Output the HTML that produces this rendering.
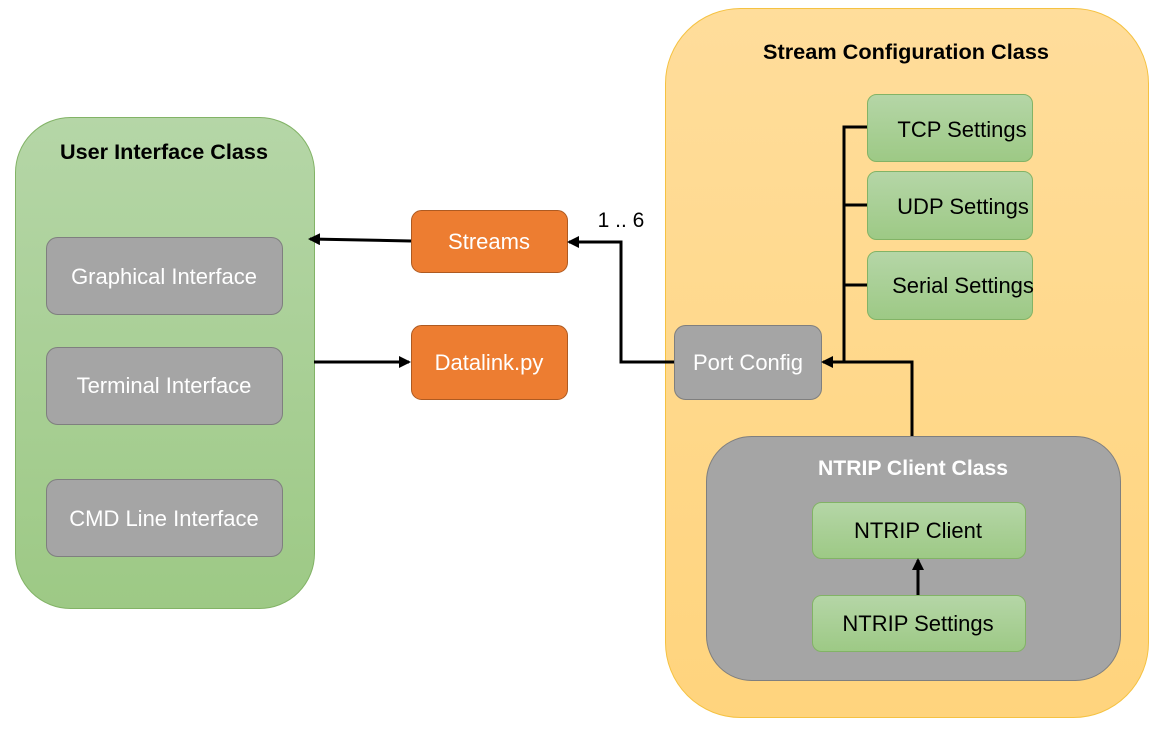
<!DOCTYPE html>
<html><head><meta charset="utf-8"><style>
html,body{margin:0;padding:0;background:#fff;width:1164px;height:733px;overflow:hidden}
text{font-family:"Liberation Sans",sans-serif}
</style></head><body>
<svg width="1164" height="733" viewBox="0 0 1164 733" xmlns="http://www.w3.org/2000/svg">
<defs>
<linearGradient id="g" x1="0" y1="0" x2="0" y2="1"><stop offset="0" stop-color="#b5d6a7"/><stop offset="1" stop-color="#9dc985"/></linearGradient>
<linearGradient id="y" x1="0" y1="0" x2="0" y2="1"><stop offset="0" stop-color="#ffdd9b"/><stop offset="1" stop-color="#ffd47d"/></linearGradient>
<marker id="a" markerWidth="12" markerHeight="12" refX="10" refY="6" orient="auto" markerUnits="userSpaceOnUse"><path d="M0,0 L12,6 L0,12 z" fill="#000"/></marker>
</defs>
<rect x="15.5" y="117.5" width="299" height="491" rx="55" fill="url(#g)" stroke="#82b366"/>
<text x="164" y="159" font-size="21" font-weight="bold" text-anchor="middle" textLength="208" lengthAdjust="spacingAndGlyphs">User Interface Class</text>
<g fill="#a5a5a5" stroke="#7f7f7f">
<rect x="46.5" y="237.5" width="236" height="77" rx="11"/>
<rect x="46.5" y="347.5" width="236" height="77" rx="11"/>
<rect x="46.5" y="479.5" width="236" height="77" rx="11"/>
</g>
<g fill="#fff" font-size="22" text-anchor="middle">
<text x="164" y="284">Graphical Interface</text>
<text x="164" y="393">Terminal Interface</text>
<text x="164" y="526">CMD Line Interface</text>
</g>
<rect x="411.5" y="210.5" width="156" height="62" rx="10" fill="#ed7d31" stroke="#ae5a21"/>
<rect x="411.5" y="325.5" width="156" height="74" rx="10" fill="#ed7d31" stroke="#ae5a21"/>
<text x="489" y="249" font-size="22" fill="#fff" text-anchor="middle">Streams</text>
<text x="489" y="370" font-size="22" fill="#fff" text-anchor="middle">Datalink.py</text>
<text x="621" y="227" font-size="21" text-anchor="middle">1 .. 6</text>
<rect x="665.5" y="8.5" width="483" height="709" rx="75" fill="url(#y)" stroke="#f5c242"/>
<text x="906" y="59" font-size="21" font-weight="bold" text-anchor="middle" textLength="286" lengthAdjust="spacingAndGlyphs">Stream Configuration Class</text>
<g fill="url(#g)" stroke="#82b366">
<rect x="867.5" y="94.5" width="165" height="67" rx="9"/>
<rect x="867.5" y="171.5" width="165" height="68" rx="9"/>
<rect x="867.5" y="251.5" width="165" height="68" rx="9"/>
</g>
<g font-size="22" text-anchor="middle">
<text x="962" y="137">TCP Settings</text>
<text x="963" y="214">UDP Settings</text>
<text x="963" y="293">Serial Settings</text>
</g>
<rect x="674.5" y="325.5" width="147" height="74" rx="11" fill="#a5a5a5" stroke="#7f7f7f"/>
<text x="748" y="370" font-size="22" fill="#fff" text-anchor="middle">Port Config</text>
<rect x="706.5" y="436.5" width="414" height="244" rx="45" fill="#a5a5a5" stroke="#7f7f7f"/>
<text x="913" y="475" font-size="21" font-weight="bold" fill="#fff" text-anchor="middle" textLength="190" lengthAdjust="spacingAndGlyphs">NTRIP Client Class</text>
<g fill="url(#g)" stroke="#82b366">
<rect x="812.5" y="502.5" width="213" height="56" rx="9"/>
<rect x="812.5" y="595.5" width="213" height="56" rx="9"/>
</g>
<g font-size="22" text-anchor="middle">
<text x="918" y="538">NTRIP Client</text>
<text x="918" y="631">NTRIP Settings</text>
</g>
<g stroke="#000" stroke-width="3" fill="none">
<line x1="411" y1="241" x2="310" y2="239" marker-end="url(#a)"/>
<line x1="314" y1="362" x2="409" y2="362" marker-end="url(#a)"/>
<polyline points="674,362 621,362 621,242 569,242" marker-end="url(#a)"/>
<polyline points="867,127 844,127 844,362"/>
<line x1="844" y1="205" x2="867" y2="205"/>
<line x1="844" y1="285" x2="867" y2="285"/>
<polyline points="912,436 912,362 823,362" marker-end="url(#a)"/>
<line x1="918" y1="595" x2="918" y2="560" marker-end="url(#a)"/>
</g>
</svg>
</body></html>
